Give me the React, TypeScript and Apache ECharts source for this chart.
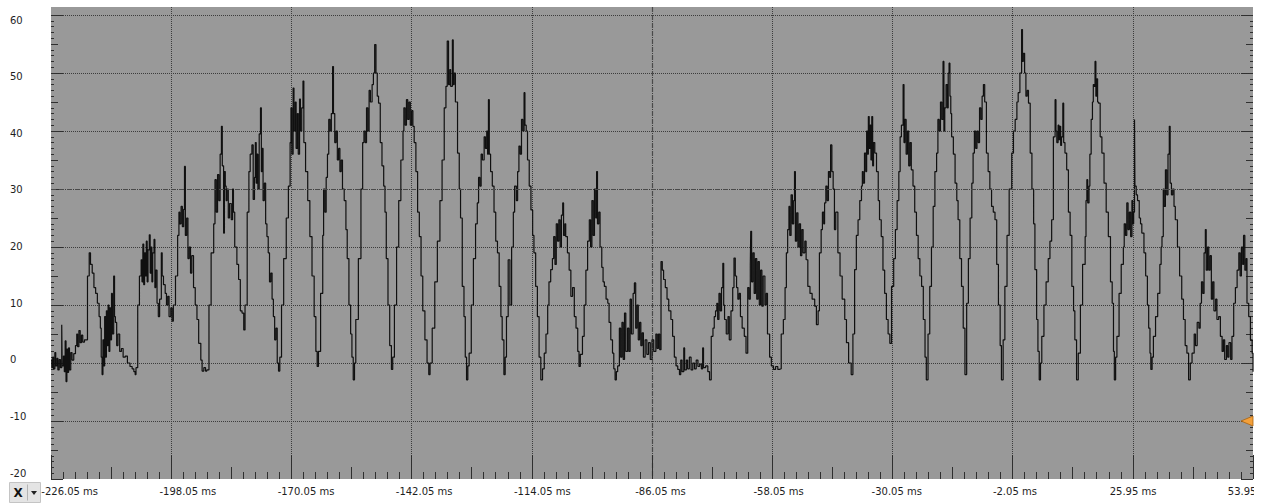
import React, { useEffect, useRef } from 'react';
import * as echarts from 'echarts';

// ---- axis definitions ----
const T_START_MS = -226.05; // time shown at the left edge of the capture
const SPAN_MS = 280; // capture length (ms since capture start)
const X_MAJOR_MS = 28;
const Y_MIN = -20;
const Y_MAX = 60;
const Y_MAJOR = 10;
const CENTER_OFFSET_MS = 140; // -86.05 ms centre line
const REFERENCE_LEVEL = 30;
const TRIGGER_LEVEL = -10;

// ---- waveform samples: [ms since capture start, value] ----
const traceA: [number, number][] = [
  [0, 0.5], [0.2, -0.8], [0.4, 1.0], [0.6, -1.0], [0.9, 1.8], [1.1, -0.5], [1.4, 0.8], [1.6, -1.2], [1.9, 0.6], [2.2, -0.8],
  [2.5, 6.6], [2.6, -0.5], [2.9, 1.2], [3.1, -1.5], [3.3, 3.8], [3.5, -3.2], [3.7, 2.4], [3.9, -1.6], [4.1, 2.6], [4.3, -1.2],
  [4.6, 1.8], [4.9, 0.5], [5.3, 1.6], [5.7, 3.0], [6.0, 5.0], [6.2, 2.8], [6.5, 5.6], [6.8, 3.5], [7.1, 4.8], [7.4, 3.6], [7.8, 4.0], [8.2, 4.0],
  [8.5, 15.0], [8.9, 19.0], [9.2, 17.0], [9.6, 15.5], [10.0, 13.0], [10.4, 12.0], [10.8, 10.3], [11.2, 8.0], [11.5, 6.0], [11.7, 1.0],
  [11.9, -2.0], [12.1, 4.0], [12.3, -0.5], [12.5, 8.0], [12.7, 1.0], [12.9, 9.0], [13.1, 3.0], [13.3, 10.0], [13.5, 2.0], [13.7, 9.5],
  [13.9, 4.0], [14.1, 12.0], [14.3, 5.0], [14.6, 15.0], [14.8, 8.0], [15.0, 7.0], [15.3, 3.0], [15.6, 5.0], [16.0, 2.0], [16.4, 2.5],
  [16.8, 1.0], [17.3, 1.2], [17.8, 0.0], [18.4, -0.6], [18.9, -1.0], [19.3, -1.5], [19.6, -2.0], [19.8, -0.8],
  [20.2, 10.0], [20.6, 15.0], [21.0, 17.8], [21.2, 14.0], [21.4, 20.5], [21.6, 13.5], [21.8, 19.0], [22.0, 15.0], [22.2, 21.0], [22.4, 14.0],
  [22.6, 19.5], [22.9, 22.1], [23.1, 15.5], [23.3, 20.0], [23.5, 14.0], [23.7, 19.0], [24.0, 21.3], [24.2, 13.0], [24.4, 16.0], [24.7, 10.3],
  [25.0, 8.0], [25.3, 11.0], [25.7, 19.0], [25.9, 15.0], [26.2, 13.5], [26.6, 12.0], [26.9, 10.0], [27.2, 11.5], [27.5, 8.0], [27.9, 9.5],
  [28.2, 7.2], [28.5, 10.0],
  [29.0, 15.0], [29.5, 22.0], [29.8, 26.0], [30.0, 24.0], [30.3, 27.0], [30.6, 23.5], [30.9, 26.5], [31.1, 33.9], [31.3, 22.0], [31.6, 25.0],
  [31.9, 18.0], [32.2, 20.0], [32.5, 15.5], [32.8, 18.5], [33.2, 13.0], [33.6, 10.0], [34.0, 7.5], [34.4, 3.4], [34.9, 0.5], [35.2, -1.4],
  [35.6, -0.8], [36.0, -1.4], [36.3, -1.2],
  [36.8, 10.0], [37.3, 19.0], [37.9, 24.0], [38.2, 31.6], [38.5, 26.0], [38.8, 32.5], [39.1, 28.0], [39.4, 36.0], [39.7, 40.8], [39.9, 34.0],
  [40.2, 22.4], [40.4, 33.0], [40.6, 30.5], [40.8, 28.0], [41.0, 30.0], [41.3, 25.0], [41.6, 27.5], [42.0, 24.7], [42.3, 30.0], [42.5, 26.0],
  [42.8, 20.0], [43.3, 17.0], [43.7, 14.4], [44.1, 9.0], [44.5, 8.6], [44.9, 5.7], [45.2, 10.0], [45.7, 26.0], [46.1, 33.0], [46.4, 36.0],
  [46.8, 37.6], [47.1, 28.2],
];

const traceB: [number, number][] = [
  [47.4, 32.0], [47.6, 38.0], [47.8, 31.0], [48.0, 36.0], [48.2, 30.0], [48.5, 39.5], [48.8, 44.0], [49.0, 33.0], [49.2, 37.0], [49.4, 28.0],
  [49.7, 31.0], [50.0, 24.0], [50.3, 21.8], [50.6, 19.0], [50.9, 14.0], [51.2, 15.5], [51.5, 11.0], [51.8, 8.0], [52.1, 4.0], [52.4, 6.0],
  [52.7, 0.0], [53.0, -1.4], [53.3, 1.0], [53.7, 10.0], [54.2, 18.0], [54.8, 25.0], [55.3, 30.5], [55.7, 38.0], [55.9, 44.0], [56.1, 36.0],
  [56.4, 47.4], [56.6, 40.0], [56.9, 45.0], [57.1, 37.0], [57.4, 43.0], [57.6, 36.0], [57.9, 45.5], [58.1, 40.0], [58.4, 44.0], [58.7, 48.6],
  [58.9, 38.0], [59.3, 33.0], [59.8, 28.0], [60.3, 21.8], [60.8, 15.0], [61.3, 8.0], [61.7, 2.0], [62.0, -0.6], [62.3, 2.0], [62.8, 12.0],
  [63.3, 22.0], [63.5, 30.0], [63.8, 26.0], [64.1, 32.0], [64.4, 36.0], [64.7, 42.0], [65.0, 40.0], [65.3, 43.0], [65.6, 51.1], [65.8, 43.0],
  [66.1, 38.0], [66.4, 40.0], [66.7, 35.0], [67.0, 37.0], [67.3, 33.0], [67.6, 35.0], [67.9, 30.0], [68.3, 28.0], [68.7, 23.0], [69.0, 18.0],
  [69.4, 10.0], [69.8, 5.0], [70.1, 1.0], [70.4, -2.9], [70.7, 0.0], [71.0, 7.5], [71.6, 18.0], [72.2, 30.0], [72.6, 38.0], [72.9, 40.0],
  [73.2, 38.0], [73.5, 44.0], [73.8, 40.0], [74.1, 47.0], [74.4, 45.0], [74.8, 48.0], [75.1, 50.0], [75.4, 54.9], [75.7, 50.0], [76.0, 46.0],
  [76.3, 44.8], [76.7, 38.0], [77.1, 34.0], [77.5, 30.5], [77.8, 26.0], [78.1, 18.0], [78.5, 10.0], [78.9, 3.0], [79.3, -1.1], [79.6, 1.0],
  [80.0, 10.0], [80.5, 20.0], [81.0, 28.0], [81.5, 35.0], [82.0, 40.0], [82.2, 44.0], [82.5, 41.0], [82.8, 45.4], [83.1, 42.0], [83.4, 45.0],
  [83.7, 41.0], [84.0, 43.5], [84.3, 40.8], [84.6, 38.0], [85.0, 33.0], [85.4, 26.0], [85.8, 21.8], [86.2, 15.0], [86.6, 9.0], [87.1, 4.0],
  [87.6, 0.0], [88.0, -2.0], [88.3, 0.0], [88.8, 6.0], [89.4, 14.0], [90.0, 21.0], [90.6, 28.0], [91.1, 35.0], [91.6, 44.0], [92.0, 47.7],
  [92.3, 55.5], [92.6, 48.0], [92.9, 50.6], [93.1, 47.7],
];

const traceC: [number, number][] = [
  [93.5, 55.7], [93.7, 48.0], [93.9, 50.0], [94.2, 45.0], [94.7, 36.2], [95.1, 30.0], [95.4, 25.0], [95.8, 13.2], [96.2, 8.0], [96.5, 1.0],
  [96.8, -2.9], [97.1, -0.5], [97.4, 1.7], [97.9, 10.0], [98.4, 18.0], [98.9, 24.0], [99.3, 27.6], [99.6, 32.0], [99.9, 30.5], [100.2, 36.0],
  [100.5, 35.0], [100.9, 39.0], [101.2, 37.0], [101.5, 40.0], [101.7, 36.0], [101.9, 45.4], [102.1, 36.0], [102.4, 33.0], [102.8, 30.5], [103.2, 26.0],
  [103.6, 21.0], [104.0, 19.0], [104.4, 13.2], [104.8, 8.0], [105.1, 4.0], [105.5, -2.0], [105.8, 1.0], [106.1, 8.0], [106.5, 17.8], [106.9, 10.0],
  [107.3, 20.0], [107.7, 26.0], [108.0, 30.5], [108.4, 28.0], [108.7, 33.0], [109.0, 37.4], [109.3, 36.0], [109.6, 42.0], [109.9, 40.0], [110.2, 46.6],
  [110.4, 41.0], [110.7, 40.0], [111.0, 35.0], [111.4, 30.5], [111.8, 26.4], [112.2, 22.0], [112.5, 19.0], [112.9, 13.2], [113.3, 8.0], [113.7, 1.0],
  [114.1, -2.9], [114.5, -1.0], [114.9, 1.7], [115.3, 5.0], [115.7, 10.0], [116.0, 14.0], [116.4, 16.1], [116.8, 18.0], [117.1, 21.8], [117.4, 17.0],
  [117.7, 24.0], [118.0, 21.0], [118.3, 24.7], [118.6, 20.0], [118.9, 25.5], [119.2, 27.6], [119.4, 22.0], [119.7, 24.0], [119.9, 21.8], [120.3, 19.0],
  [120.7, 16.0], [121.1, 11.5], [121.5, 13.0], [121.9, 8.0], [122.3, 6.0], [122.7, 2.0], [123.0, -0.6], [123.3, 1.5], [123.8, 4.6], [124.2, 10.0],
  [124.6, 16.0], [125.0, 21.0], [125.4, 24.7], [125.7, 20.0], [126.0, 28.0], [126.3, 22.0], [126.6, 30.0], [126.9, 25.0], [127.1, 33.0], [127.3, 24.0],
  [127.6, 26.0], [127.9, 20.0], [128.3, 16.5], [128.6, 14.0], [128.9, 13.2], [129.3, 11.0], [129.7, 10.3], [130.0, 7.0], [130.4, 4.0], [130.8, 1.7],
  [131.1, -1.0], [131.4, -2.9], [131.7, -1.5], [132.0, -0.5], [132.4, 6.0], [132.7, 1.0], [133.0, 7.0], [133.3, 0.6], [133.6, 8.6], [133.9, 2.0],
  [134.3, 6.0], [134.6, 2.0], [134.9, 11.0], [135.2, 5.0], [135.6, 12.0], [135.9, 13.8], [136.2, 6.0], [136.5, 10.0], [136.8, 4.0], [137.1, 7.0],
  [137.4, 3.0], [137.7, 5.2], [138.0, 1.0], [138.4, 4.0], [138.8, 1.5], [139.2, 3.5], [139.6, 0.6], [140.0, 4.0], [140.4, 2.0], [140.9, 5.0],
];

const traceD: [number, number][] = [
  [141.2, 2.5], [141.5, 5.0], [141.8, 2.3], [142.1, 17.5], [142.4, 16.0], [142.7, 14.4], [143.1, 13.0], [143.5, 11.0], [143.9, 9.0], [144.4, 7.5],
  [144.8, 4.6], [145.2, 1.0], [145.6, -0.5], [146.0, -1.1], [146.4, -2.0], [146.7, 0.5], [147.0, -1.5], [147.4, 2.6], [147.6, -1.2], [148.0, 0.5],
  [148.3, -1.0], [148.7, 1.0], [149.1, -1.2], [149.5, 0.0], [149.9, -1.0], [150.3, 0.5], [150.7, -0.6], [151.1, -0.2], [151.5, -1.0], [151.8, 2.6],
  [152.0, -0.8], [152.5, -0.5], [153.0, -1.5], [153.4, -2.9], [153.8, 4.6], [154.2, 6.0], [154.5, 8.0], [154.8, 9.0], [155.1, 10.3], [155.3, 7.5],
  [155.6, 12.0], [155.9, 9.0], [156.2, 13.0], [156.5, 17.2], [156.7, 10.0], [156.9, 7.5], [157.3, 5.0], [157.7, 8.0], [158.0, 4.0], [158.4, 9.0],
  [158.8, 13.0], [159.1, 18.1], [159.4, 15.0], [159.7, 13.0], [160.0, 11.0], [160.3, 12.0], [160.6, 8.0], [161.0, 6.0], [161.5, 4.6], [161.9, 1.7],
  [162.3, 13.0], [162.6, 11.0], [162.9, 17.0], [163.0, 22.7], [163.2, 14.0], [163.5, 19.0], [163.8, 12.0], [164.1, 18.0], [164.4, 11.0], [164.7, 17.5],
  [165.0, 10.0], [165.3, 16.0], [165.6, 9.8], [165.9, 15.0], [166.3, 10.0], [166.6, 12.0], [166.9, 5.0], [167.4, 1.0], [167.8, -0.5], [168.3, -1.1],
  [168.8, -0.6], [169.3, -1.1], [169.7, -1.0], [170.1, 5.0], [170.6, 7.5], [171.0, 13.0], [171.3, 19.0], [171.6, 23.0], [171.9, 27.0], [172.1, 22.0],
  [172.4, 29.0], [172.7, 24.0], [173.0, 28.0], [173.2, 33.0], [173.4, 21.0], [173.7, 25.9], [174.0, 20.0], [174.3, 24.0], [174.6, 18.5], [174.9, 23.0],
  [175.2, 19.0], [175.6, 21.0], [175.9, 17.8], [176.3, 13.2], [176.8, 12.0], [177.3, 11.0], [177.9, 9.8], [178.3, 6.6], [178.7, 9.0], [179.0, 19.0],
  [179.4, 23.0], [179.7, 26.0], [180.0, 24.0], [180.2, 27.6], [180.5, 30.5], [180.8, 28.0], [181.1, 33.0], [181.4, 32.0], [181.6, 37.6], [181.9, 33.0],
  [182.2, 30.0], [182.5, 23.0], [182.8, 26.0], [183.3, 19.0], [183.8, 15.0], [184.3, 11.0], [184.9, 7.5], [185.3, 3.5], [185.8, 0.0], [186.4, -2.0],
  [186.8, 5.0], [187.2, 16.1],
];

const traceE: [number, number][] = [
  [187.6, 22.0], [188.0, 24.7], [188.4, 28.0], [188.8, 30.5], [189.0, 33.0], [189.2, 31.0], [189.5, 36.2], [189.8, 33.0], [190.0, 40.0], [190.2, 36.0],
  [190.4, 42.5], [190.6, 37.0], [190.8, 41.0], [191.0, 35.0], [191.2, 42.5], [191.4, 34.0], [191.6, 38.0], [191.9, 36.2], [192.3, 33.0], [192.7, 28.0],
  [193.0, 24.7], [193.4, 21.8], [193.8, 16.0], [194.2, 12.0], [194.6, 7.5], [195.0, 5.0], [195.4, 3.4], [195.8, 13.2], [196.3, 18.0], [196.7, 23.0],
  [197.1, 28.0], [197.5, 33.0], [197.8, 39.0], [198.1, 41.0], [198.5, 48.0], [198.7, 38.0], [198.9, 42.0], [199.2, 36.0], [199.5, 40.0], [199.8, 34.0],
  [200.1, 38.0], [200.4, 33.3], [200.8, 30.5], [201.2, 26.0], [201.6, 22.0], [202.0, 18.0], [202.4, 15.0], [202.8, 13.2], [203.2, 7.5], [203.6, 1.0],
  [203.9, -2.9], [204.3, 5.0], [204.7, 13.2], [205.1, 20.0], [205.5, 27.0], [205.9, 33.0], [206.3, 36.2], [206.6, 42.0], [206.9, 40.0], [207.2, 45.0],
  [207.5, 42.0], [207.8, 52.0], [208.0, 40.0], [208.2, 44.0], [208.5, 48.0], [208.8, 44.0], [209.0, 50.0], [209.2, 51.7], [209.4, 46.0], [209.6, 43.0],
  [209.8, 39.0], [210.2, 36.0], [210.6, 31.0], [211.0, 28.0], [211.3, 24.7], [211.7, 18.0], [212.1, 13.2], [212.5, 6.0], [212.9, -2.0], [213.3, 10.3],
  [213.7, 18.0], [214.1, 25.0], [214.5, 31.0], [214.8, 36.2], [215.1, 40.0], [215.4, 37.0], [215.7, 40.0], [216.0, 38.0], [216.3, 44.0], [216.6, 42.0],
  [216.9, 46.0], [217.2, 48.0], [217.5, 45.0], [217.9, 36.2], [218.3, 33.0], [218.7, 30.0], [219.1, 27.0], [219.5, 26.0], [219.9, 24.7], [220.3, 17.0],
  [220.7, 10.0], [221.1, 3.0], [221.4, -2.9], [221.8, 4.0], [222.2, 13.2], [222.7, 22.0], [223.2, 30.0], [223.8, 36.2], [224.2, 40.0], [224.6, 42.0],
  [225.0, 45.0], [225.3, 46.6], [225.7, 50.0], [226.1, 57.5], [226.3, 52.0], [226.5, 53.4], [226.8, 50.0], [227.1, 46.0], [227.4, 47.0], [227.7, 44.8],
  [228.1, 36.2], [228.5, 30.0], [228.9, 24.0], [229.2, 16.1], [229.6, 7.5], [229.9, 2.0], [230.2, -2.9], [230.5, 0.0], [230.8, 4.6], [231.3, 10.0],
  [231.8, 14.0], [232.3, 18.0], [232.7, 21.0], [233.1, 24.7], [233.5, 39.0], [233.9, 45.4],
];

const traceF: [number, number][] = [
  [234.1, 40.0], [234.3, 38.0], [234.6, 41.0], [234.8, 38.5], [235.0, 40.8], [235.2, 37.5], [235.4, 39.0], [235.7, 44.8], [235.9, 38.0], [236.2, 36.2],
  [236.6, 33.3], [237.0, 26.0], [237.4, 22.0], [237.8, 13.2], [238.2, 9.0], [238.5, 4.0], [238.9, -2.9], [239.3, 1.7], [239.8, 10.0], [240.3, 17.0],
  [240.9, 21.8], [241.1, 28.0], [241.3, 31.6], [241.5, 27.6], [241.8, 30.5], [242.0, 36.0], [242.3, 42.0], [242.6, 45.0], [242.8, 48.0], [243.0, 47.7],
  [243.2, 52.0], [243.4, 46.0], [243.6, 49.0], [243.8, 45.0], [244.0, 44.8], [244.4, 39.0], [244.8, 36.2], [245.3, 31.0], [245.8, 26.0], [246.3, 21.8],
  [246.8, 14.0], [247.2, 10.3], [247.5, 2.0], [247.7, -2.9], [248.0, 1.0], [248.3, 4.6], [248.8, 12.0], [249.3, 17.0], [249.8, 20.0], [250.0, 24.0],
  [250.3, 22.0], [250.6, 27.6], [250.9, 23.0], [251.2, 26.0], [251.5, 21.8], [251.8, 28.0], [252.0, 24.0], [252.2, 26.0], [252.4, 42.0], [252.5, 30.5],
  [252.8, 29.0], [253.1, 28.0], [253.5, 25.0], [253.8, 24.0], [254.1, 22.4], [254.6, 19.0], [255.0, 15.0], [255.4, 10.0], [255.7, 6.0], [256.0, 1.7],
  [256.2, -1.1], [256.5, 1.0], [256.8, 4.6], [257.3, 8.0], [257.8, 12.0], [258.3, 17.0], [258.6, 20.0], [258.8, 21.8], [259.1, 30.0], [259.3, 27.0],
  [259.6, 33.3], [259.9, 29.0], [260.2, 36.0], [260.5, 40.8], [260.7, 31.0], [261.0, 29.0], [261.3, 30.0], [261.6, 27.0], [261.9, 24.7], [262.4, 20.0],
  [262.9, 15.0], [263.4, 11.0], [263.8, 7.5], [264.2, 3.0], [264.6, 1.7], [265.0, -2.9], [265.4, 0.0], [265.8, 1.7], [266.3, 5.0], [266.6, 3.0],
  [267.0, 7.0], [267.4, 6.0], [267.7, 10.3], [268.0, 14.0], [268.3, 12.0], [268.6, 19.0], [268.9, 23.0], [269.1, 16.0], [269.4, 20.0], [269.7, 16.0],
  [270.0, 18.5], [270.3, 11.0], [270.6, 14.0], [270.9, 9.0], [271.3, 11.0], [271.6, 7.5], [272.0, 8.0], [272.4, 4.6], [272.8, 2.0], [273.1, 4.0],
  [273.4, 0.6], [273.8, 3.0], [274.1, 1.0], [274.4, 3.5], [274.8, 0.6], [275.1, 4.6], [275.5, 10.3], [275.9, 13.0], [276.3, 16.0], [276.7, 19.0],
  [277.0, 15.0], [277.3, 20.0], [277.6, 17.0], [277.8, 22.0], [278.1, 16.0], [278.4, 18.0], [278.6, 10.3], [279.0, 8.0], [279.4, 4.0], [279.8, 1.7],
  [280.0, -1.5],
];

const FONT = 'DejaVu Sans, Verdana, sans-serif';
const TICK_COLOR = '#2f2f2f';
const GRID_DOT_COLOR = '#3c3c3c';
const CHART_W = 1300;
const VISIBLE_W = 1254;

function xTickAxis(interval: number, length: number) {
  return {
    type: 'value', gridIndex: 0, position: 'bottom', min: 0, max: SPAN_MS, interval,
    axisLine: { show: false, onZero: false },
    axisTick: { show: true, inside: true, length, lineStyle: { color: TICK_COLOR, width: 1 } },
    axisLabel: { show: false }, splitLine: { show: false },
  };
}

function yTickAxis(position: 'left' | 'right', interval: number, length: number) {
  return {
    type: 'value', gridIndex: 0, position, min: Y_MIN, max: Y_MAX, interval,
    axisLine: { show: false, onZero: false },
    axisTick: { show: true, inside: true, length, lineStyle: { color: TICK_COLOR, width: 1 } },
    axisLabel: { show: false }, splitLine: { show: false },
  };
}

function buildOption() {
  const trace = [...traceA, ...traceB, ...traceC, ...traceD, ...traceE, ...traceF];
  const labelStyle = { fontFamily: FONT, fontSize: 10, color: '#1e1e1e' };
  return {
    animation: false,
    grid: [
      { left: 51, top: 15, width: 1202, height: 464, show: false },
      { left: 69.7, top: 20, width: 1181.5, height: 453, show: false },
      { left: 51, top: 7, width: 1202, height: 472, show: false },
    ],
    xAxis: [
      xTickAxis(X_MAJOR_MS, 24),
      xTickAxis(X_MAJOR_MS / 2, 12),
      xTickAxis(X_MAJOR_MS / 10, 7),
      {
        type: 'value', gridIndex: 1, position: 'bottom', min: 0, max: SPAN_MS, interval: X_MAJOR_MS,
        axisLine: { show: false, onZero: false }, axisTick: { show: false }, splitLine: { show: false },
        axisLabel: {
          show: true, margin: 13.5, ...labelStyle,
          formatter: (v: number) => (v + T_START_MS).toFixed(2) + ' ms',
        },
      },
      {
        type: 'value', gridIndex: 2, position: 'bottom', min: 0, max: SPAN_MS, interval: X_MAJOR_MS,
        axisLine: { show: false, onZero: false }, axisTick: { show: false }, axisLabel: { show: false },
        splitLine: { show: true, showMinLine: false, showMaxLine: false, lineStyle: { color: GRID_DOT_COLOR, type: [1, 1], width: 1 } },
      },
      {
        type: 'value', gridIndex: 2, position: 'bottom', min: 0, max: SPAN_MS, interval: CENTER_OFFSET_MS,
        axisLine: { show: false, onZero: false }, axisTick: { show: false }, axisLabel: { show: false },
        splitLine: { show: true, showMinLine: false, showMaxLine: false, lineStyle: { color: '#4a4a4a', type: [5, 3], width: 1.2 } },
      },
    ],
    yAxis: [
      {
        ...yTickAxis('left', Y_MAJOR, 12),
        splitLine: { show: true, showMinLine: false, showMaxLine: true, lineStyle: { color: GRID_DOT_COLOR, type: [1, 1], width: 1 } },
      },
      yTickAxis('left', Y_MAJOR / 2, 7),
      yTickAxis('left', Y_MAJOR / 10, 3),
      yTickAxis('right', Y_MAJOR, 12),
      yTickAxis('right', Y_MAJOR / 2, 7),
      yTickAxis('right', Y_MAJOR / 10, 3),
      {
        type: 'value', gridIndex: 1, position: 'left', min: Y_MIN, max: Y_MAX, interval: Y_MAJOR,
        axisLine: { show: false, onZero: false }, axisTick: { show: false }, splitLine: { show: false },
        axisLabel: { show: true, align: 'left', margin: 59.7, ...labelStyle },
      },
      { type: 'value', gridIndex: 2, min: 0, max: 1, show: false },
    ],
    graphic: [
      {
        type: 'rect', z: -100, silent: true,
        shape: { x: 51, y: 7, width: 1202, height: 472 },
        style: { fill: '#999999' },
      },
      {
        type: 'group', left: 9, top: 482, silent: true,
        children: [
          { type: 'rect', shape: { x: 0, y: 0, width: 31, height: 20 }, style: { fill: '#e4e4e4', stroke: '#c4c4c4', lineWidth: 1 } },
          { type: 'text', x: 8.5, y: 10, style: { text: 'X', fontFamily: FONT, fontWeight: 'bold', fontSize: 12, fill: '#111', align: 'center', verticalAlign: 'middle' } },
          { type: 'line', shape: { x1: 18, y1: 2, x2: 18, y2: 18 }, style: { stroke: '#b4b4b4', lineWidth: 1 } },
          { type: 'polygon', shape: { points: [[21.5, 8.5], [27.5, 8.5], [24.5, 12.5]] }, style: { fill: '#222' } },
        ],
      },
    ],
    series: [
      {
        type: 'line', xAxisIndex: 0, yAxisIndex: 0, data: trace,
        step: 'end',
        showSymbol: false, symbol: 'none', silent: true, clip: true,
        lineStyle: { color: '#101010', width: 1.2 },
        markLine: {
          silent: true, symbol: ['none', 'none'], label: { show: false },
          lineStyle: { color: '#4a4a4a', type: [5, 3], width: 1.2 },
          data: [{ yAxis: REFERENCE_LEVEL }],
        },
        markPoint: {
          silent: true,
          symbol: 'path://M12,0 L12,10 L0,5 Z',
          symbolSize: [12, 10],
          symbolOffset: [-6, 0],
          label: { show: false },
          itemStyle: { color: '#f3a03a', borderColor: '#a8610f', borderWidth: 0.8 },
          data: [{ coord: [SPAN_MS, TRIGGER_LEVEL] }],
        },
      },
    ],
  };
}

export default function App() {
  const ref = useRef<HTMLDivElement>(null);
  useEffect(() => {
    if (!ref.current) return;
    const chart = echarts.init(ref.current, null, { renderer: 'svg' });
    chart.setOption(buildOption() as any);
    return () => chart.dispose();
  }, []);
  return (
    <div
      style={{ position: 'absolute', left: 0, top: 0, width: VISIBLE_W, height: 504, overflow: 'hidden', background: '#ffffff' }}
    >
      <div ref={ref} style={{ width: CHART_W, height: 504 }} />
    </div>
  );
}
